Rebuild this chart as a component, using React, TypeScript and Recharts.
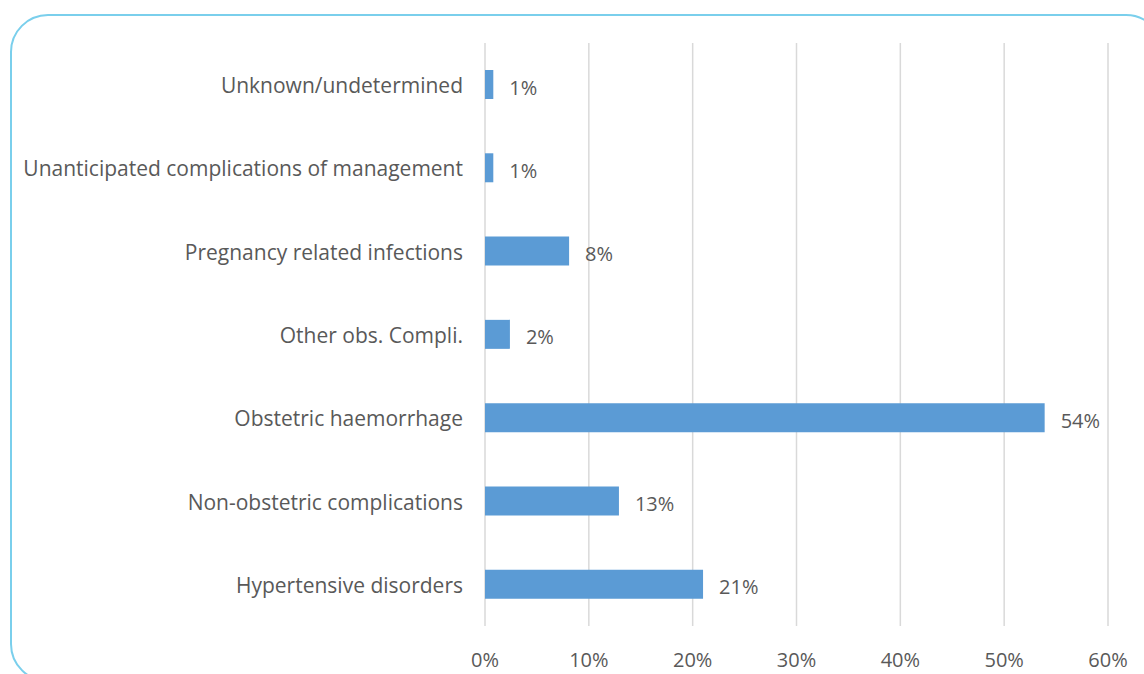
import {
  Bar,
  BarChart,
  CartesianGrid,
  LabelList,
  XAxis,
  YAxis,
} from "recharts";

const causes = [
  "Unknown/undetermined",
  "Unanticipated complications of management",
  "Pregnancy related infections",
  "Other obs. Compli.",
  "Obstetric haemorrhage",
  "Non-obstetric complications",
  "Hypertensive disorders",
];

const shares = [0.8, 0.8, 8.1, 2.4, 53.9, 12.9, 21.0];

const xTicks = [0, 10, 20, 30, 40, 50, 60];

const data = causes.map((name, i) => ({ name, value: shares[i] }));

const font = "'Open Sans', sans-serif";
const textColor = "#595959";

export default function App() {
  return (
    <div
      style={{
        position: "absolute",
        left: 0,
        top: 0,
        width: 1144,
        height: 674,
        overflow: "hidden",
        background: "#fff",
        fontFamily: font,
      }}
    >
      <div
        style={{
          position: "absolute",
          left: 10,
          top: 14,
          width: 1150,
          height: 664,
          border: "2px solid #7ACFEC",
          borderRadius: 38,
        }}
      />
      <div style={{ position: "absolute", left: 0, top: 0 }}>
        <BarChart
          width={1144}
          height={674}
          data={data}
          layout="vertical"
          margin={{ top: 43, right: 36, bottom: 0, left: 0 }}
          barSize={29}
        >
          <CartesianGrid horizontal={false} stroke="#d9d9d9" strokeWidth={1.5} />
          <XAxis
            type="number"
            domain={[0, 60]}
            ticks={xTicks}
            tickFormatter={(v) => `${v}%`}
            axisLine={false}
            tickLine={false}
            tickSize={0}
            tickMargin={27}
            height={48}
            tick={{ fill: textColor, fontSize: 20, fontFamily: font }}
          />
          <YAxis
            type="category"
            dataKey="name"
            width={485}
            axisLine={false}
            tickLine={false}
            tickSize={0}
            tickMargin={22}
            tick={{ fill: textColor, fontSize: 21, fontFamily: font, dy: 1 }}
          />
          <Bar dataKey="value" fill="#5B9BD5" isAnimationActive={false}>
            <LabelList
              dataKey="value"
              position="right"
              offset={16}
              dy={3}
              formatter={(v: number) => `${Math.round(v)}%`}
              style={{ fill: textColor, fontSize: 20, fontFamily: font }}
            />
          </Bar>
        </BarChart>
      </div>
    </div>
  );
}
